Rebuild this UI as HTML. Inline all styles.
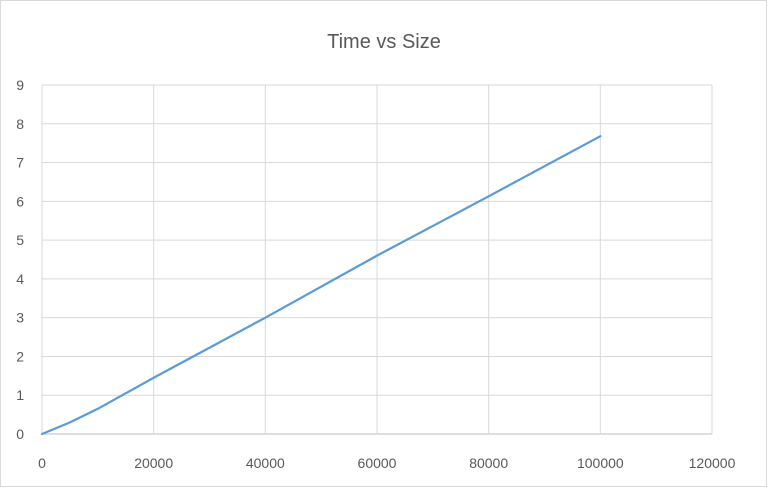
<!DOCTYPE html>
<html><head><meta charset="utf-8"><style>
body{margin:0;background:#fff;}
svg{display:block;font-family:"Liberation Sans",Arial,sans-serif;}
</style></head><body>
<svg id="chart" width="775" height="498">
<rect x="0.5" y="0.5" width="766" height="486" fill="#fff" stroke="#d9d9d9"/>
<text x="384" y="48" text-anchor="middle" font-size="20" fill="#595959">Time vs Size</text>
<g id="grid"></g><g id="axes"></g><g id="series"></g>
</svg>
<script>
const xTicks=[0,20000,40000,60000,80000,100000,120000];
const yTicks=[0,1,2,3,4,5,6,7,8,9];
const sizes=[0,5000,10000,20000,40000,60000,80000,100000];
const times=[0,0.3,0.65,1.45,3.0,4.6,6.13,7.68];
const X0=42,X1=712,Y0=434,Y1=85;
const xs=v=>X0+(v-0)/(120000)*(X1-X0);
const ys=v=>Y0-(v/9)*(Y0-Y1);
const NS="http://www.w3.org/2000/svg";
const grid=document.getElementById('grid'),axes=document.getElementById('axes'),ser=document.getElementById('series');
function mk(t,a,p){const e=document.createElementNS(NS,t);for(const k in a)e.setAttribute(k,a[k]);p.appendChild(e);return e;}
yTicks.forEach(v=>{
 const l=mk('line',{x1:X0,x2:X1,y1:ys(v),y2:ys(v),stroke:v===0?'#bfbfbf':'#d9d9d9','stroke-width':1},grid);
 
 
 const t=mk('text',{x:24,y:ys(v)+5,'text-anchor':'end','font-size':14,fill:'#595959'},axes);
 t.textContent=v;
 
 
});
xTicks.forEach(v=>{
 const l=mk('line',{x1:xs(v),x2:xs(v),y1:Y1,y2:Y0,stroke:'#d9d9d9','stroke-width':1},grid);
 
 
 const t=mk('text',{x:xs(v),y:468,'text-anchor':'middle','font-size':14,fill:'#595959'},axes);
 t.textContent=v;
 
 
});
const p=mk('polyline',{points:sizes.map((s,i)=>xs(s)+','+ys(times[i])).join(' '),fill:'none',stroke:'#5b9bd5','stroke-width':2.2,'stroke-linejoin':'round','stroke-linecap':'round'},ser);


</script>
</body></html>
